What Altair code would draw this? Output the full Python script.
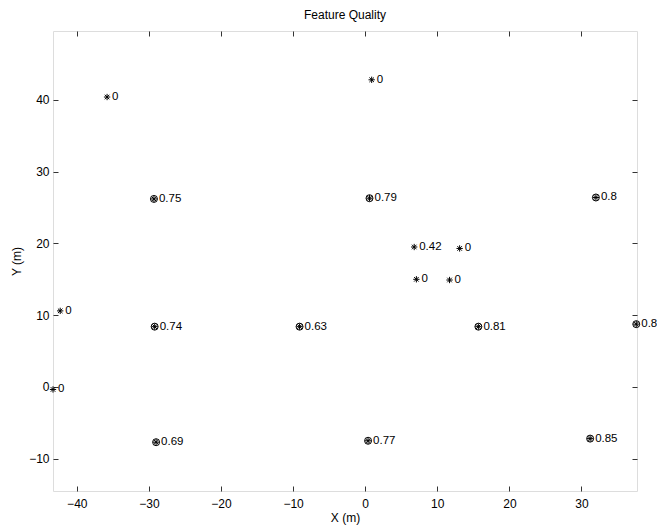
import altair as alt
import pandas as pd

# Feature positions (m) and quality labels
x_m = [-35.8, 0.9, -29.3, 0.6, 32.0, 6.8, 13.1, 7.1, 11.7, -42.3,
       -29.2, -9.1, 15.7, 37.6, -43.3, -29.0, 0.4, 31.2]
y_m = [40.4, 42.8, 26.2, 26.3, 26.4, 19.5, 19.3, 15.0, 14.9, 10.6,
       8.4, 8.4, 8.4, 8.75, -0.35, -7.7, -7.5, -7.2]
quality = ["0", "0", "0.75", "0.79", "0.8", "0.42", "0", "0", "0", "0",
           "0.74", "0.63", "0.81", "0.8", "0", "0.69", "0.77", "0.85"]

x_ticks = [-40, -30, -20, -10, 0, 10, 20, 30]
y_ticks = [-10, 0, 10, 20, 30, 40]
x_domain = [-43.3, 37.7]
y_domain = [-14.5, 49.6]

df = pd.DataFrame({"x": x_m, "y": y_m, "q": quality})
df["qv"] = df["q"].astype(float)

FONT = "Liberation Sans"
ASTERISK = "M-1,0L1,0M0,-1L0,1M-0.72,-0.72L0.72,0.72M-0.72,0.72L0.72,-0.72"

xs = alt.Scale(domain=x_domain, nice=False, zero=False)
ys = alt.Scale(domain=y_domain, nice=False, zero=False)

common_axis = dict(grid=False, domain=False, tickSize=5, offset=-5,
                   tickColor="black", tickWidth=0.8,
                   labelFont=FONT, labelFontSize=12, labelColor="black",
                   titleFont=FONT, titleFontSize=12, titleColor="black",
                   titleFontWeight="normal")

x_bottom = alt.Axis(orient="bottom", values=x_ticks, title="X (m)",
                    labelPadding=7, titlePadding=3, **common_axis)
y_left = alt.Axis(orient="left", values=y_ticks, title="Y (m)",
                  labelPadding=4, titlePadding=5, **common_axis)
x_top = alt.Axis(orient="top", values=x_ticks, title=None, labels=False,
                 **common_axis)
y_right = alt.Axis(orient="right", values=y_ticks, title=None, labels=False,
                   **common_axis)

base = alt.Chart(df)

circles = base.transform_filter(alt.datum.qv > 0.5).mark_point(
    shape="circle", size=49, filled=False, stroke="black", strokeWidth=1,
    opacity=1, clip=False
).encode(
    x=alt.X("x:Q", scale=xs, axis=x_bottom),
    y=alt.Y("y:Q", scale=ys, axis=y_left),
)

stars = base.mark_point(
    shape=ASTERISK, size=40, filled=False, stroke="black", strokeWidth=1,
    opacity=1, clip=False
).encode(
    x=alt.X("x:Q", scale=xs, axis=x_top),
    y=alt.Y("y:Q", scale=ys, axis=y_right),
)

labels = base.mark_text(
    align="left", baseline="middle", dx=5, font=FONT, fontSize=11.5,
    color="black", clip=False
).encode(
    x=alt.X("x:Q", scale=xs, axis=None),
    y=alt.Y("y:Q", scale=ys, axis=None),
    text="q:N",
)

chart = alt.layer(circles, stars, labels).resolve_axis(
    x="independent", y="independent"
).properties(
    width=584, height=460,
    title=alt.TitleParams("Feature Quality", font=FONT, fontSize=12,
                          fontWeight="normal", color="black", offset=9),
    autosize=alt.AutoSizeParams(type="none"),
    padding={"left": 45, "top": 23, "right": 20, "bottom": 34},
).configure_view(stroke="black", strokeWidth=1).configure(background="white")

chart.save("out.html", embed_options={"renderer": "svg", "actions": False})
